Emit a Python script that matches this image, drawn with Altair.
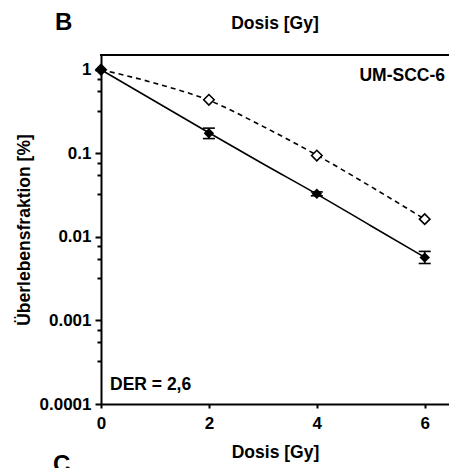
import altair as alt
import pandas as pd

# ---- data ----
dose = [0, 2, 4, 6]
sf_open = [1.0, 0.437, 0.094, 0.0163]      # open diamonds (dashed fit)
sf_filled = [1.0, 0.174, 0.0327, 0.00565]  # filled diamonds (solid fit)
err_dose = [2, 4, 6]
err_lo = [0.150, 0.0310, 0.0048]
err_hi = [0.200, 0.0345, 0.0067]

fit_dose = [0, 1, 2, 3, 4, 5, 6]
fit_open = [1.0, 0.69, 0.43, 0.21, 0.095, 0.040, 0.0163]
fit_filled = [1.0, 0.42, 0.176, 0.075, 0.0325, 0.0136, 0.0057]

major_ticks = [0.0001, 0.001, 0.01, 0.1, 1]
minor_mult = [3.25, 5.5, 7.75]
minor_ticks = [m * d for d in [0.0001, 0.001, 0.01, 0.1] for m in minor_mult]
x_ticks = [0, 2, 4, 6]

FONT = "Liberation Sans"
W, H = 348, 349

xscale = alt.Scale(domain=[0, 6.45], nice=False, zero=False)
yscale = alt.Scale(type="log", domain=[0.0001, 1.5], nice=False)

is_major = "abs(log(datum.value)/LN10 - round(log(datum.value)/LN10)) < 0.01"

xaxis = alt.Axis(values=x_ticks, title="Dosis [Gy]", format="d", tickSize=4,
                 labelPadding=7, titlePadding=12, labelFlush=False)
yaxis = alt.Axis(values=major_ticks + minor_ticks, title="Überlebensfraktion [%]",
                 labelExpr=f"{is_major} ? format(datum.value, '.4~f') : ''",
                 tickSize={"condition": {"test": is_major, "value": 6}, "value": 4},
                 labelPadding=4, titlePadding=6, labelFlush=False)

X = alt.X("dose:Q", scale=xscale, axis=xaxis)
Y = alt.Y("sf:Q", scale=yscale, axis=yaxis)

df_pts_open = pd.DataFrame({"dose": dose, "sf": sf_open})
df_pts_filled = pd.DataFrame({"dose": dose, "sf": sf_filled})
df_fit_open = pd.DataFrame({"dose": fit_dose, "sf": fit_open})
df_fit_filled = pd.DataFrame({"dose": fit_dose, "sf": fit_filled})
df_err = pd.DataFrame({"dose": err_dose, "sf": err_lo, "hi": err_hi})
df_caps = pd.DataFrame({"dose": err_dose + err_dose, "sf": err_lo + err_hi})

line_open = alt.Chart(df_fit_open).mark_line(
    color="black", strokeWidth=1.6, strokeDash=[5, 4], interpolate="monotone"
).encode(x=X, y=Y)
line_filled = alt.Chart(df_fit_filled).mark_line(
    color="black", strokeWidth=1.6, interpolate="monotone"
).encode(x=X, y=Y)
err = alt.Chart(df_err).mark_rule(color="black", strokeWidth=1.6).encode(
    x=X, y=Y, y2="hi:Q")
caps = alt.Chart(df_caps).mark_tick(
    color="black", orient="horizontal", size=12, thickness=1.6, opacity=1
).encode(x=X, y=Y)
pts_open = alt.Chart(df_pts_open).mark_point(
    shape="diamond", size=110, filled=True, fill="white", stroke="black",
    strokeWidth=1.6, opacity=1
).encode(x=X, y=Y)
pts_filled = alt.Chart(df_pts_filled).mark_point(
    shape="diamond", size=110, filled=True, color="black", opacity=1
).encode(x=X, y=Y)

top_border = alt.Chart(pd.DataFrame({"a": [0]})).mark_rule(
    color="black", strokeWidth=2
).encode(x=alt.value(-1), x2=alt.value(W), y=alt.value(0))


def label(txt, x, y, size, align="left"):
    return alt.Chart(pd.DataFrame({"t": [txt]})).mark_text(
        font=FONT, fontWeight="bold", fontSize=size, color="black",
        align=align, baseline="alphabetic"
    ).encode(x=alt.value(x), y=alt.value(y), text="t:N")


texts = [
    label("B", -46, -25, 24),
    label("Dosis [Gy]", W / 2, -26, 17.5, "center"),
    label("UM-SCC-6", 344, 26, 17.5, "right"),
    label("DER = 2,6", 9, 335, 17.5),
    label("C", -48, 417, 24),
]

chart = alt.layer(
    line_open, line_filled, err, caps, pts_open, pts_filled, top_border, *texts
).properties(
    width=W, height=H,
    autosize=alt.AutoSizeParams(type="none"),
    padding={"left": 101, "top": 55, "right": 0, "bottom": 64},
    background="white",
).configure_view(stroke=None).configure_axis(
    grid=False, domainColor="black", domainWidth=2, tickColor="black", tickWidth=2,
    labelFont=FONT, labelFontWeight="bold", labelFontSize=17, labelColor="black",
    titleFont=FONT, titleFontWeight="bold", titleFontSize=17.5, titleColor="black",
    labelOverlap=False, labelBound=False,
)

chart.save("out.html", embed_options={"renderer": "svg", "actions": False})
